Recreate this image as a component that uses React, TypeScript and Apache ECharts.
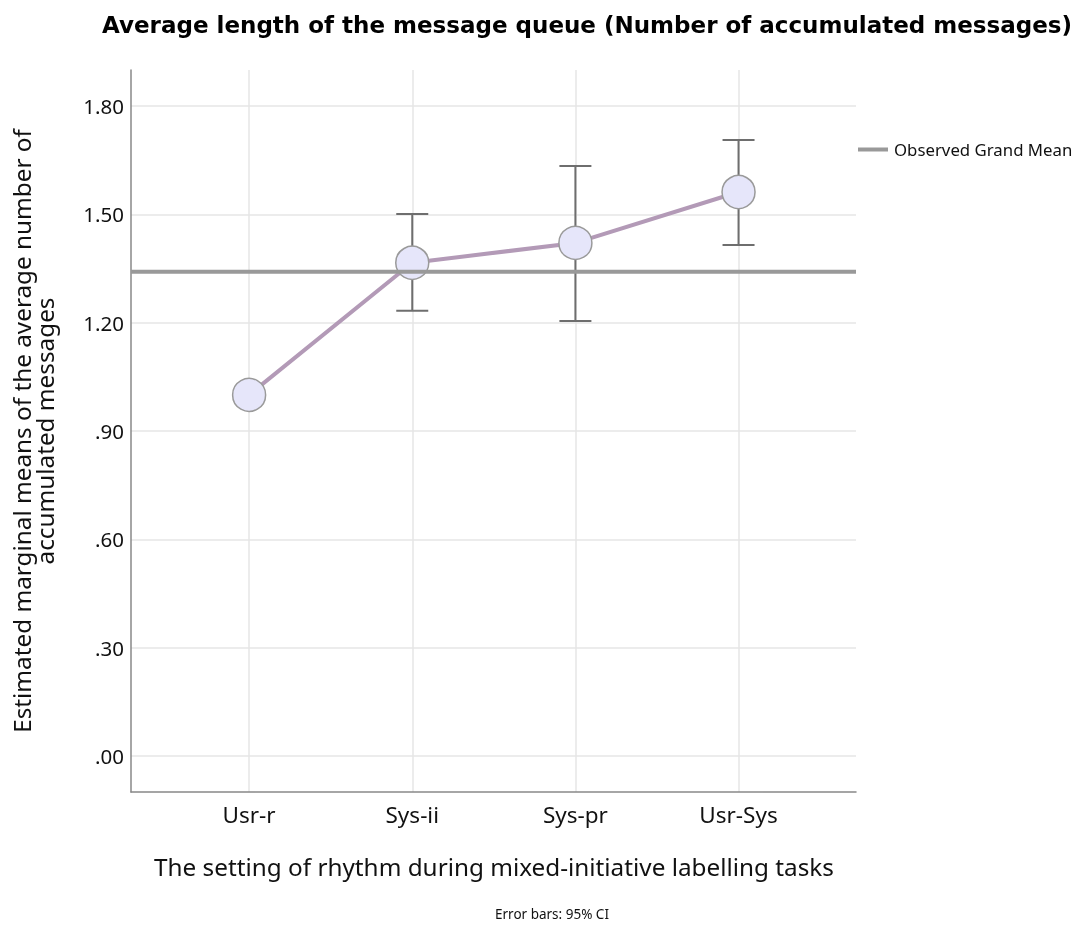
import React, { useEffect, useRef } from "react";
import * as echarts from "echarts";

const categories = ["Usr-r", "Sys-ii", "Sys-pr", "Usr-Sys"];
const means = [1.0, 1.366, 1.421, 1.562];
const ciLower = [null, 1.233, 1.205, 1.415];
const ciUpper = [null, 1.501, 1.634, 1.706];
const grandMean = 1.341;
const yTicks = [0, 0.3, 0.6, 0.9, 1.2, 1.5, 1.8];

const FONT = "'Noto Sans', sans-serif";

export default function App() {
  const ref = useRef<HTMLDivElement>(null);
  useEffect(() => {
    if (!ref.current) return;
    const chart = echarts.init(ref.current, null, { renderer: "svg" });
    const errData = categories
      .map((_, i) => [i, ciLower[i], ciUpper[i]])
      .filter((d) => d[1] != null);
    chart.setOption({
      animation: false,
      title: {
        text: "Average length of the message queue (Number of accumulated messages)",
        left: 582,
        top: 8,
        textAlign: "center",
        textStyle: {
          fontFamily: "'DejaVu Sans', sans-serif",
          fontWeight: "bold",
          fontSize: 23,
          color: "#000",
        },
      },
      legend: {
        data: [{ name: "Observed Grand Mean", icon: "rect" }],
        left: 853,
        top: 136,
        itemWidth: 30,
        itemHeight: 4,
        itemGap: 5,
        textStyle: { fontFamily: FONT, fontSize: 16.8, color: "#111", padding: [0, 0, 0, 1] },
      },
      grid: { left: 131, right: 222, top: 70, bottom: 135 },
      xAxis: {
        type: "value",
        min: -0.724,
        max: 3.72,
        axisLine: { show: true, onZero: false, lineStyle: { color: "#888", width: 1.5 } },
        axisTick: { show: false, customValues: [0, 1, 2, 3] },
        axisLabel: {
          customValues: [0, 1, 2, 3],
          formatter: (v: number) => categories[Math.round(v)] ?? "",
          fontFamily: FONT,
          fontSize: 22.5,
          color: "#111",
          margin: 11,
        },
        splitLine: { show: true, lineStyle: { color: "#e6e6e6", width: 1.5 } },
      },
      yAxis: {
        type: "value",
        min: -0.1,
        max: 1.9,
        axisLine: { show: true, onZero: false, lineStyle: { color: "#888", width: 1.5 } },
        axisTick: { show: false, customValues: yTicks },
        axisLabel: {
          customValues: yTicks,
          formatter: (v: number) => v.toFixed(2).replace(/^0/, ""),
          fontFamily: FONT,
          fontSize: 20.5,
          color: "#111",
          margin: 7,
        },
        splitLine: { show: true, lineStyle: { color: "#e6e6e6", width: 1.5 } },
      },
      graphic: [
        {
          type: "text",
          x: 33,
          y: 431,
          rotation: Math.PI / 2,
          style: {
            text: "Estimated marginal means of the average number of\naccumulated messages",
            fontFamily: FONT,
            fontSize: 24.3,
            lineHeight: 23,
            fill: "#111",
            align: "center",
            verticalAlign: "middle",
          },
        },
        {
          type: "text",
          x: 494,
          y: 866,
          style: {
            text: "The setting of rhythm during mixed-initiative labelling tasks",
            fontFamily: FONT,
            fontSize: 24.3,
            fill: "#111",
            align: "center",
            verticalAlign: "middle",
          },
        },
        {
          type: "text",
          x: 552,
          y: 914,
          style: {
            text: "Error bars: 95% CI",
            fontFamily: FONT,
            fontSize: 13.5,
            fill: "#111",
            align: "center",
            verticalAlign: "middle",
          },
        },
      ],
      series: [
        {
          type: "custom",
          name: "CI",
          z: 1,
          data: errData,
          renderItem: (params: any, api: any) => {
            const x = api.value(0);
            const lo = api.coord([x, api.value(1)]);
            const hi = api.coord([x, api.value(2)]);
            const hw = 16;
            const st = { stroke: "#6e6e6e", lineWidth: 2 };
            return {
              type: "group",
              children: [
                { type: "line", shape: { x1: lo[0], y1: lo[1], x2: hi[0], y2: hi[1] }, style: st },
                { type: "line", shape: { x1: lo[0] - hw, y1: lo[1], x2: lo[0] + hw, y2: lo[1] }, style: st },
                { type: "line", shape: { x1: hi[0] - hw, y1: hi[1], x2: hi[0] + hw, y2: hi[1] }, style: st },
              ],
            };
          },
        },
        {
          type: "line",
          name: "Means",
          z: 2,
          data: means.map((m, i) => [i, m]),
          symbol: "circle",
          symbolSize: 33,
          lineStyle: { color: "#b39ab7", width: 4 },
          itemStyle: { color: "#e6e6fa", borderColor: "#9a9a9a", borderWidth: 1.5 },
        },
        {
          type: "line",
          name: "Observed Grand Mean",
          z: 3,
          data: [
            [-0.724, grandMean],
            [3.72, grandMean],
          ],
          symbol: "none",
          lineStyle: { color: "#999999", width: 4 },
          itemStyle: { color: "#999999" },
        },
      ],
    });
    return () => chart.dispose();
  }, []);
  return (
    <div
      ref={ref}
      style={{ position: "fixed", left: 0, top: 0, width: 1078, height: 927 }}
    />
  );
}
